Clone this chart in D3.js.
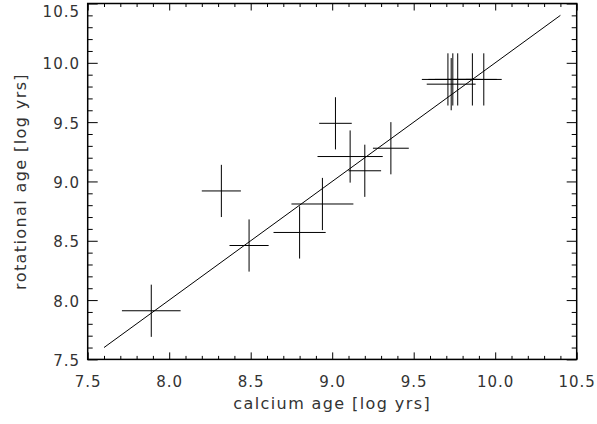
<!DOCTYPE html>
<html>
<head>
<meta charset="utf-8">
<script src="https://cdn.jsdelivr.net/npm/d3@7"></script>
<style>
  body { margin: 0; background: #fff; }
  svg text { font-family: 'DejaVu Sans', sans-serif; fill: #333; }
</style>
</head>
<body>
<svg id="chart"></svg>
<script>
// calcium age vs rotational age, log yrs
var calciumAge = [7.89, 8.32, 8.49, 8.80, 8.94, 9.02, 9.11, 9.20, 9.36, 9.71, 9.74, 9.77, 9.86, 9.93, 9.73]
var rotationalAge = [7.91, 8.92, 8.46, 8.57, 8.81, 9.49, 9.21, 9.09, 9.28, 9.86, 9.86, 9.86, 9.86, 9.86, 9.82]
var calciumErr = [0.18, 0.12, 0.12, 0.16, 0.19, 0.10, 0.20, 0.10, 0.11, 0.16, 0.15, 0.14, 0.15, 0.11, 0.15]
var rotationalErr = [0.22, 0.22, 0.22, 0.22, 0.22, 0.22, 0.22, 0.22, 0.22, 0.22, 0.22, 0.22, 0.22, 0.22, 0.22]
var oneToOne = [7.6, 10.4]
var majorTicks = [7.5, 8.0, 8.5, 9.0, 9.5, 10.0, 10.5]

var width = 597
var height = 424

var svg = d3.select('#chart')
  .attr('width', width)
  .attr('height', height)

var x = d3.scaleLinear()
  .domain([7.5, 10.5])
  .range([87.7, 576.7])
var y = d3.scaleLinear()
  .domain([7.5, 10.5])
  .range([359.4, 3.5])

var minorTicks = d3.range(75, 106).map(function (d) { return d / 10 })
  .filter(function (d) { return majorTicks.indexOf(d) < 0 })

var plotLeft = x.range()[0]
var plotRight = x.range()[1]
var plotTop = y.range()[1]
var plotBottom = y.range()[0]

function addAxis (axis, tx, ty, showLabels) {
  var g = svg.append('g')
    .attr('transform', 'translate(' + tx + ',' + ty + ')')
    .call(axis)
  g.select('.domain').remove()
  g.selectAll('line').attr('stroke', '#000').attr('stroke-width', 1)
  if (!showLabels) g.selectAll('text').remove()
  return g
}

// x ticks, bottom and top, pointing inward
var xb = addAxis(d3.axisBottom(x).tickValues(majorTicks).tickSize(-7).tickSizeOuter(0)
  .tickFormat(d3.format('.1f')), 0, plotBottom, true)
xb.selectAll('text')
  .attr('y', 27.3).attr('dy', null)
  .style('font-size', '15px').style('letter-spacing', '1px')
addAxis(d3.axisBottom(x).tickValues(minorTicks).tickSize(-3.5).tickSizeOuter(0).tickFormat(''), 0, plotBottom, false)
addAxis(d3.axisTop(x).tickValues(majorTicks).tickSize(-7).tickSizeOuter(0), 0, plotTop, false)
addAxis(d3.axisTop(x).tickValues(minorTicks).tickSize(-3.5).tickSizeOuter(0), 0, plotTop, false)

// y ticks, left and right
var yl = addAxis(d3.axisLeft(y).tickValues(majorTicks).tickSize(-10).tickSizeOuter(0)
  .tickFormat(d3.format('.1f')), plotLeft, 0, true)
yl.selectAll('text')
  .attr('x', -7.7).attr('dy', null)
  .attr('y', function (d) { return Math.max(6, 16.5 - y(d)) })
  .style('font-size', '15px').style('letter-spacing', '1px')
addAxis(d3.axisLeft(y).tickValues(minorTicks).tickSize(-5).tickSizeOuter(0), plotLeft, 0, false)
addAxis(d3.axisRight(y).tickValues(majorTicks).tickSize(-10).tickSizeOuter(0), plotRight, 0, false)
addAxis(d3.axisRight(y).tickValues(minorTicks).tickSize(-5).tickSizeOuter(0), plotRight, 0, false)

// frame
svg.append('rect')
  .attr('x', plotLeft)
  .attr('y', plotTop)
  .attr('width', plotRight - plotLeft)
  .attr('height', plotBottom - plotTop)
  .attr('fill', 'none')
  .attr('stroke', '#000')
  .attr('stroke-width', 1.5)

// one-to-one line
svg.append('line')
  .attr('x1', x(oneToOne[0])).attr('y1', y(oneToOne[0]))
  .attr('x2', x(oneToOne[1])).attr('y2', y(oneToOne[1]))
  .attr('stroke', '#000')
  .attr('stroke-width', 1)

// error crosses
var pts = calciumAge.map(function (d, i) {
  return { cx: d, cy: rotationalAge[i], ex: calciumErr[i], ey: rotationalErr[i] }
})

var crosses = svg.append('g').selectAll('g')
  .data(pts)
  .enter().append('g')
  .attr('stroke', '#000')
  .attr('stroke-width', 1)

crosses.append('line')
  .attr('x1', function (d) { return x(d.cx - d.ex) })
  .attr('x2', function (d) { return x(d.cx + d.ex) })
  .attr('y1', function (d) { return y(d.cy) })
  .attr('y2', function (d) { return y(d.cy) })
crosses.append('line')
  .attr('x1', function (d) { return x(d.cx) })
  .attr('x2', function (d) { return x(d.cx) })
  .attr('y1', function (d) { return y(d.cy - d.ey) })
  .attr('y2', function (d) { return y(d.cy + d.ey) })

// axis titles
svg.append('text')
  .attr('x', (plotLeft + plotRight) / 2)
  .attr('y', 409)
  .attr('text-anchor', 'middle')
  .style('font-size', '16px')
  .style('letter-spacing', '1.4px')
  .text('calcium age [log yrs]')

svg.append('text')
  .attr('transform', 'translate(26,' + ((plotTop + plotBottom) / 2) + ') rotate(-90)')
  .attr('text-anchor', 'middle')
  .style('font-size', '16px')
  .style('letter-spacing', '1.4px')
  .text('rotational age [log yrs]')
</script>
</body>
</html>
